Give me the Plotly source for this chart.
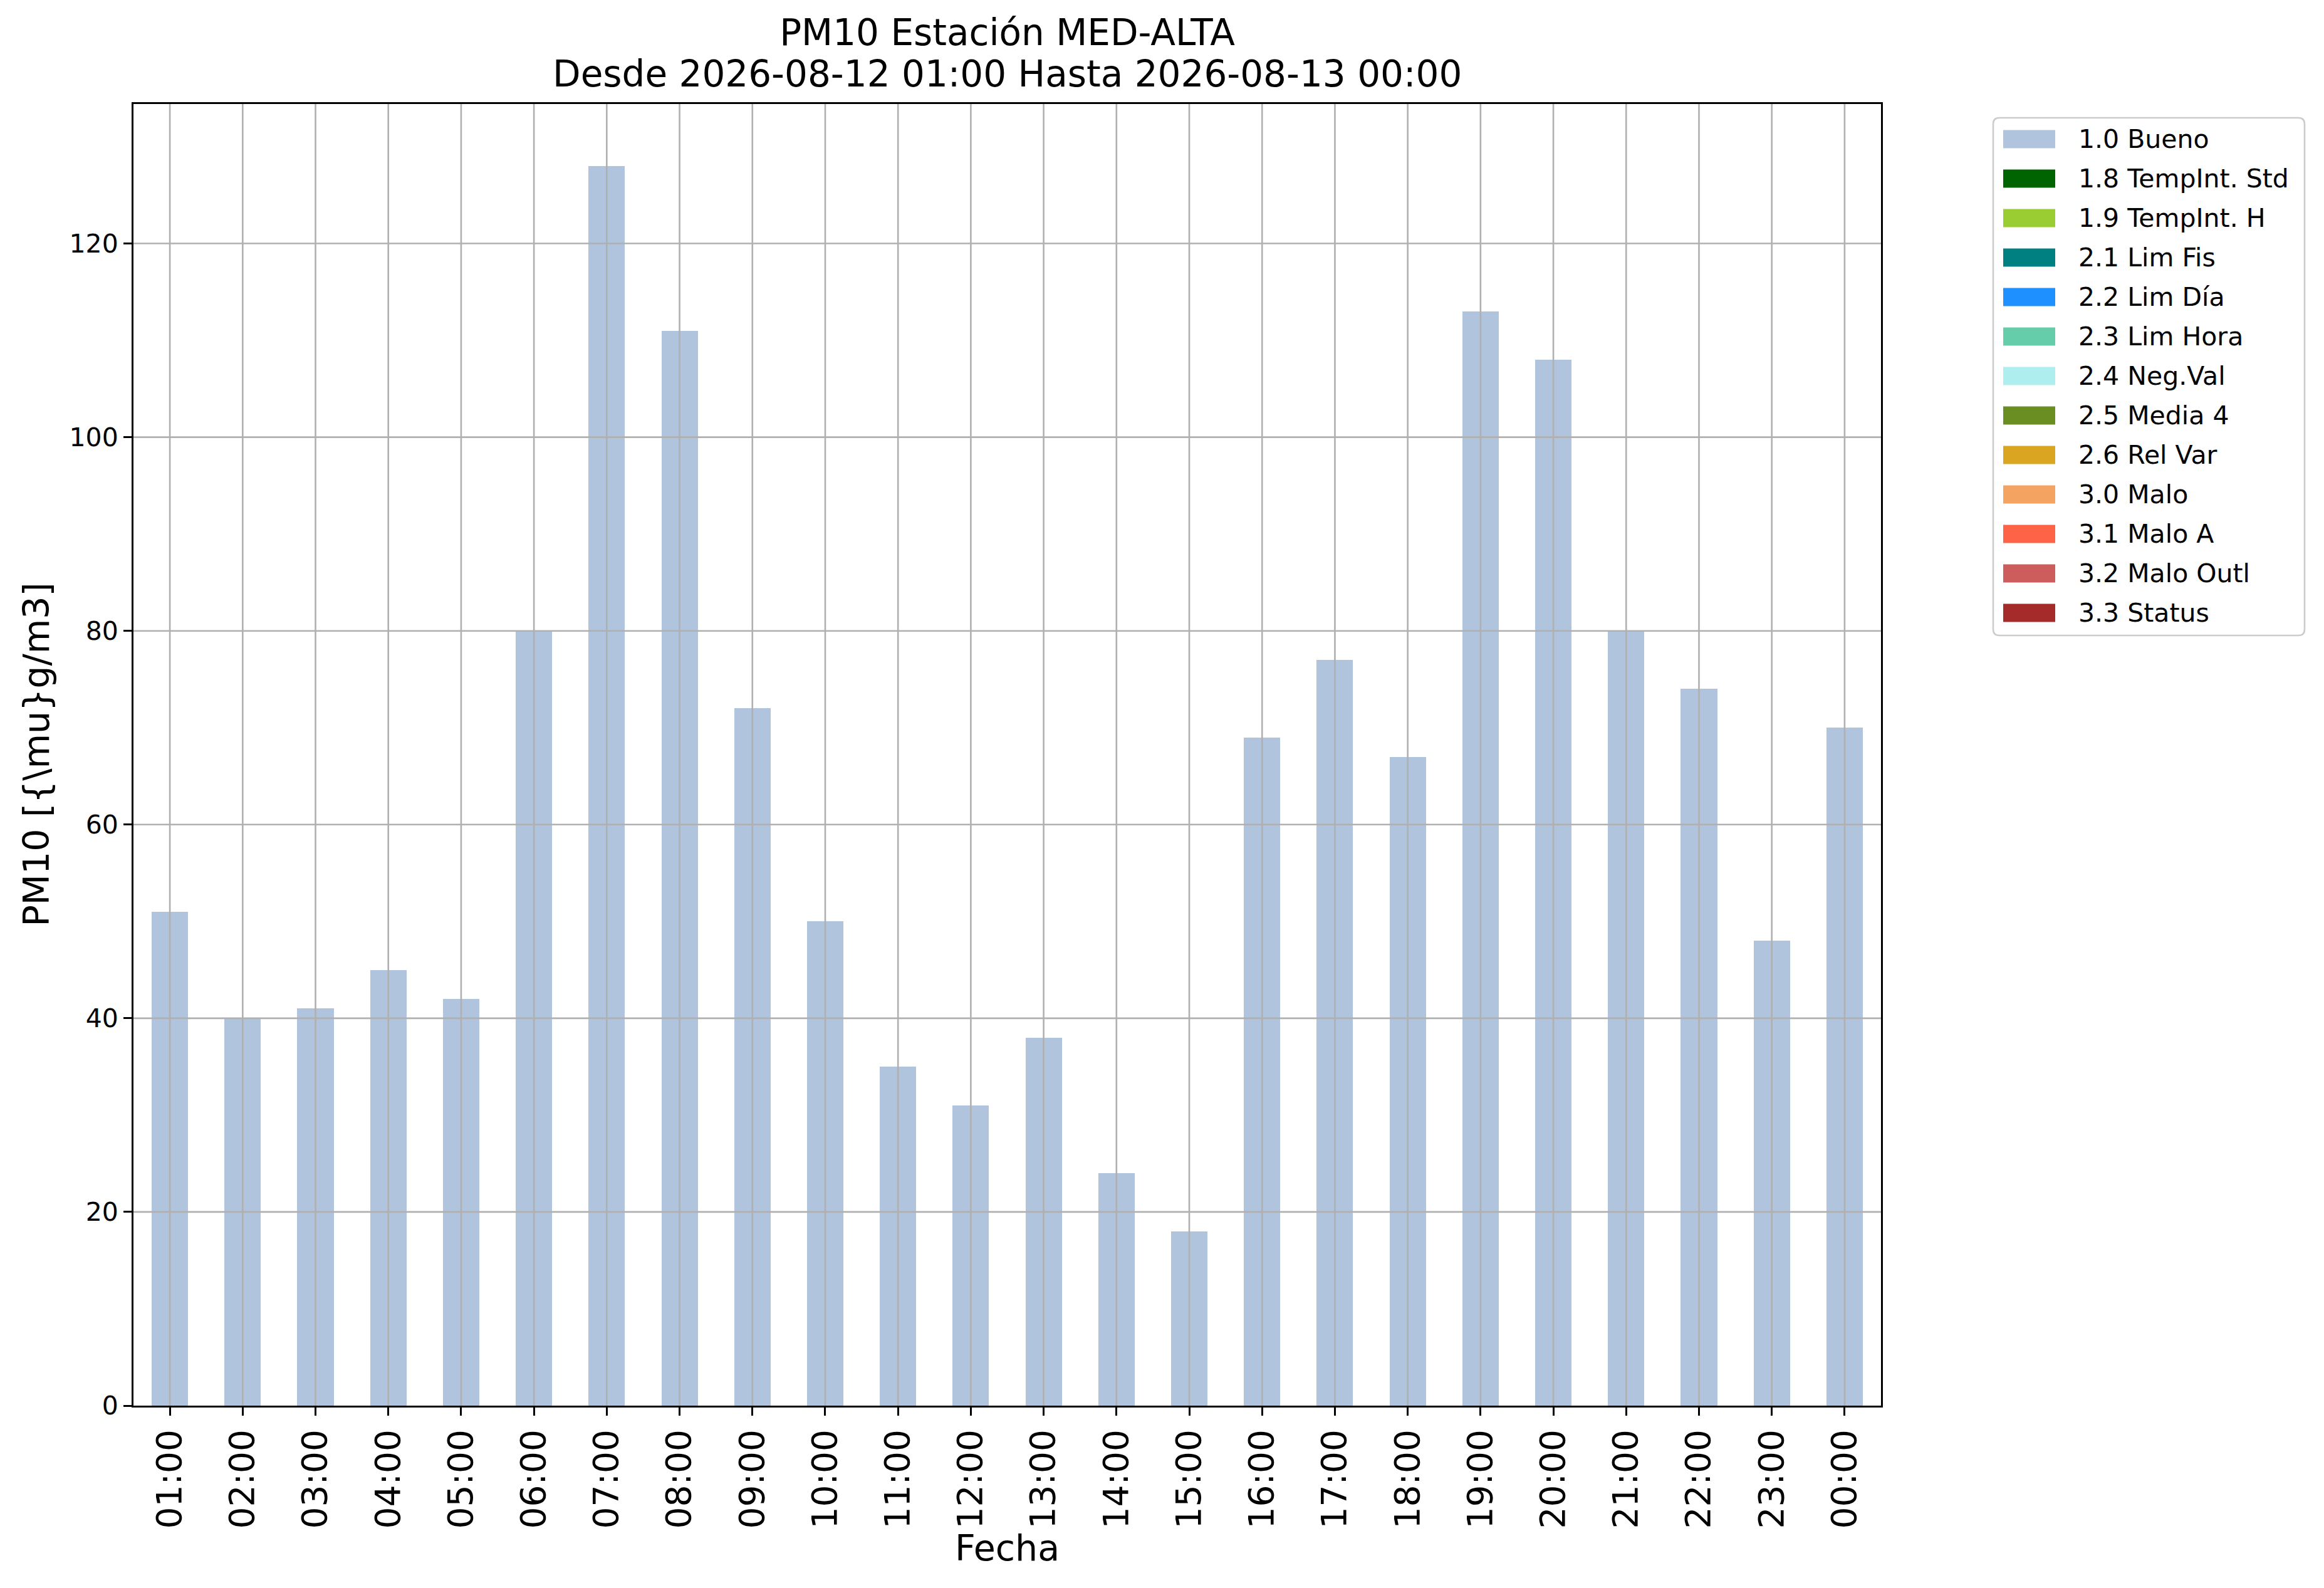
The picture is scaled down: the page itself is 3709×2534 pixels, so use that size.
import plotly.graph_objects as go

# ---------------- data ----------------
horas = ["01:00", "02:00", "03:00", "04:00", "05:00", "06:00", "07:00", "08:00",
         "09:00", "10:00", "11:00", "12:00", "13:00", "14:00", "15:00", "16:00",
         "17:00", "18:00", "19:00", "20:00", "21:00", "22:00", "23:00", "00:00"]
pm10 = [51, 40, 41, 45, 42, 80, 128, 111, 72, 50, 35, 31, 38, 24, 18, 69,
        77, 67, 113, 108, 80, 74, 48, 70]
flag_por_hora = ["1.0 Bueno"] * 24

flag_labels = ["1.0 Bueno", "1.8 TempInt. Std", "1.9 TempInt. H", "2.1 Lim Fis",
               "2.2 Lim Día", "2.3 Lim Hora", "2.4 Neg.Val", "2.5 Media 4",
               "2.6 Rel Var", "3.0 Malo", "3.1 Malo A", "3.2 Malo Outl", "3.3 Status"]
flag_colors = ["#B0C4DE", "#006400", "#9ACD32", "#008080", "#1E90FF", "#66CDAA",
               "#AFEEEE", "#6B8E23", "#DAA520", "#F4A460", "#FF6347", "#CD5C5C",
               "#A52A2A"]
y_ticks = [0, 20, 40, 60, 80, 100, 120]

titulo_1 = "PM10 Estación MED-ALTA"
titulo_2 = "Desde 2026-08-12 01:00 Hasta 2026-08-13 00:00"
x_title = "Fecha"
y_title = "PM10 [{\\mu}g/m3]"

# ---------------- geometry (pixels) ----------------
W, H = 3709, 2534
L, R, T, B = 213, 3002, 166, 2243
FONT = "DejaVu Sans"


def px2x(p):
    return (p - L) / (R - L)


def py2y(p):
    return (B - p) / (B - T)


fig = go.Figure()
for lab, col in zip(flag_labels, flag_colors):
    vals = [v if f == lab else 0 for v, f in zip(pm10, flag_por_hora)]
    fig.add_trace(go.Bar(x=horas, y=vals, name=lab, width=0.5,
                         marker=dict(color=col, line=dict(width=0)),
                         showlegend=False))

ymax = max(pm10) * 1.05

shapes = []
# grid drawn above bars (as in reference)
for h in horas:
    shapes.append(dict(type="line", xref="x", yref="y domain", x0=h, x1=h, y0=0, y1=1,
                       line=dict(color="#b0b0b0", width=2.6), layer="above"))
for t in y_ticks[1:]:
    shapes.append(dict(type="line", xref="x domain", yref="y", x0=0, x1=1, y0=t, y1=t,
                       line=dict(color="#b0b0b0", width=2.6), layer="above"))

# legend box (rounded)
bx0, bx1, by0, by1 = 3181, 3678, 188, 1014
r = 10
X0, X1 = px2x(bx0), px2x(bx1)
Y0, Y1 = py2y(by0), py2y(by1)
rx, ry = r / (R - L), r / (B - T)
path = (f"M{X0+rx},{Y0} L{X1-rx},{Y0} Q{X1},{Y0} {X1},{Y0-ry} "
        f"L{X1},{Y1+ry} Q{X1},{Y1} {X1-rx},{Y1} L{X0+rx},{Y1} "
        f"Q{X0},{Y1} {X0},{Y1+ry} L{X0},{Y0-ry} Q{X0},{Y0} {X0+rx},{Y0} Z")
shapes.append(dict(type="path", xref="paper", yref="paper", path=path,
                   fillcolor="white", line=dict(color="#cccccc", width=2.6), layer="above"))

annotations = []
for i, (lab, col) in enumerate(zip(flag_labels, flag_colors)):
    cy = 222 + 63 * i
    shapes.append(dict(type="rect", xref="paper", yref="paper",
                       x0=px2x(3197), x1=px2x(3280), y0=py2y(cy - 14.5), y1=py2y(cy + 14.5),
                       fillcolor=col, line=dict(width=0), layer="above"))
    annotations.append(dict(xref="paper", yref="paper", x=px2x(3315), y=py2y(cy),
                            xanchor="left", yanchor="middle", text=lab, showarrow=False,
                            font=dict(family=FONT, size=41, color="black")))

annotations.append(dict(xref="paper", yref="paper", x=0.5, y=py2y(118),
                        xanchor="center", yanchor="middle", text=titulo_2, showarrow=False,
                        font=dict(family=FONT, size=58, color="black")))
annotations.append(dict(xref="paper", yref="paper", x=0.5, y=0, yshift=-(2470 - B),
                        xanchor="center", yanchor="middle", text=x_title, showarrow=False,
                        font=dict(family=FONT, size=57, color="black")))
annotations.append(dict(xref="paper", yref="paper", x=0, xshift=57 - L, y=0.5,
                        xanchor="center", yanchor="middle", text=y_title, textangle=-90,
                        showarrow=False, font=dict(family=FONT, size=57, color="black")))

fig.update_layout(
    width=W, height=H, autosize=False,
    margin=dict(l=L, r=W - R, t=T, b=H - B, pad=0),
    paper_bgcolor="white", plot_bgcolor="white",
    barmode="stack", bargap=0.5,
    title=dict(text=titulo_1, x=(L + R) / 2 / W, xanchor="center", xref="container",
               y=1 - 52 / H, yanchor="middle", yref="container",
               font=dict(family=FONT, size=58, color="black")),
    font=dict(family=FONT, color="black"),
    shapes=shapes, annotations=annotations,
)
fig.update_xaxes(type="category", range=[-0.5, len(horas) - 0.5], showgrid=False,
                 showline=True, mirror=True, linecolor="black", linewidth=3,
                 ticks="outside", ticklen=13, tickwidth=3, tickcolor="black",
                 tickangle=-90, tickfont=dict(family=FONT, size=55, color="black"),
                 automargin=False, zeroline=False)
fig.update_yaxes(range=[0, ymax], tickvals=y_ticks, showgrid=False,
                 showline=True, mirror=True, linecolor="black", linewidth=3,
                 ticks="outside", ticklen=13, tickwidth=3, tickcolor="black",
                 tickfont=dict(family=FONT, size=41, color="black"),
                 automargin=False, zeroline=False)

fig.write_html("out.html", config={"displayModeBar": False},
               post_script="document.body.style.margin='0px';")
